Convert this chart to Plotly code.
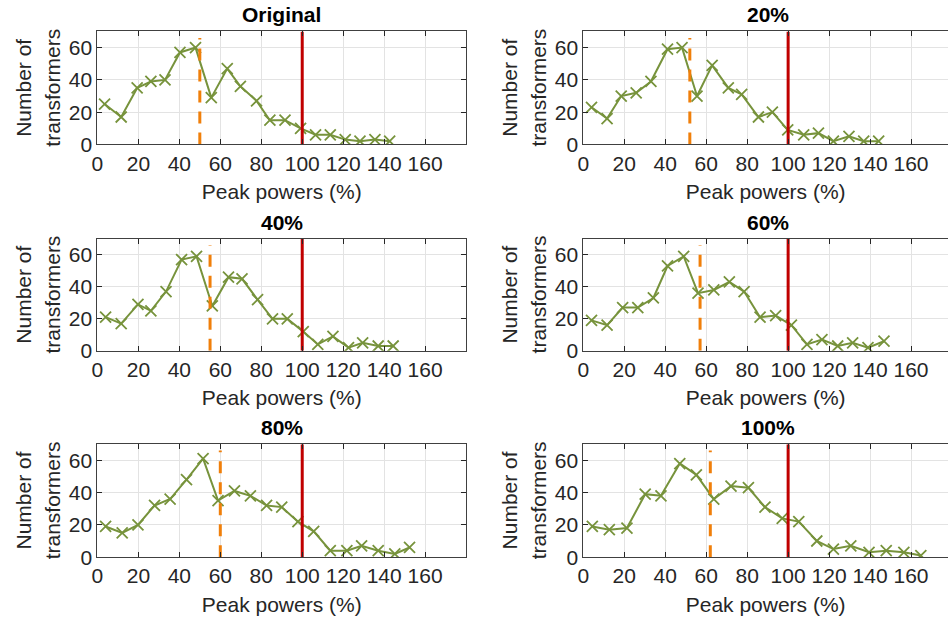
import plotly.graph_objects as go

# ---------------- data ----------------
panel_titles = ["Original", "20%", "40%", "60%", "80%", "100%"]

x_original = [3.5, 11.6, 19.4, 26.1, 33.0, 40.3, 47.9, 55.6, 63.4, 69.8, 77.7, 84.2, 91.6, 99.2, 106.5, 113.7, 121.0, 128.2, 135.5, 142.7]
y_original = [25, 17, 35, 39, 40, 57, 60, 29, 47, 36, 27, 15, 15, 10, 6, 6, 3, 2, 3, 2]

x_20 = [4.0, 11.6, 18.5, 25.8, 33.0, 41.1, 48.2, 55.5, 62.9, 70.8, 77.3, 85.5, 92.3, 99.8, 107.6, 114.8, 122.1, 129.7, 136.9, 144.2]
y_20 = [23, 16, 30, 32, 39, 59, 60, 30, 49, 35, 31, 17, 20, 9, 6, 7, 2, 5, 2, 2]

x_40 = [4.0, 11.6, 19.8, 26.1, 33.5, 41.1, 48.4, 56.1, 64.0, 70.6, 78.2, 85.5, 92.7, 100.5, 107.6, 115.0, 122.6, 129.5, 137.1, 144.4]
y_40 = [21, 17, 29, 25, 37, 57, 59, 28, 46, 45, 32, 20, 20, 12, 4, 9, 2, 5, 3, 3]

x_60 = [4.0, 11.6, 19.2, 26.6, 34.2, 41.1, 49.0, 56.0, 63.7, 71.3, 78.5, 86.3, 93.9, 101.6, 109.2, 116.5, 124.2, 131.5, 139.0, 146.8]
y_60 = [19, 16, 27, 27, 33, 53, 59, 36, 38, 43, 37, 21, 22, 16, 4, 7, 3, 5, 2, 6]

x_80 = [4.0, 12.1, 19.8, 27.9, 35.5, 43.5, 51.6, 58.9, 66.9, 74.7, 82.6, 90.0, 97.9, 105.6, 113.7, 121.8, 129.0, 137.1, 145.2, 152.4]
y_80 = [19, 15, 20, 32, 36, 48, 61, 35, 41, 38, 32, 31, 22, 16, 4, 4, 7, 4, 2, 6]

x_100 = [4.4, 12.7, 21.3, 30.2, 37.9, 47.1, 55.2, 63.7, 72.1, 80.6, 88.7, 97.1, 105.2, 114.0, 122.1, 130.6, 139.5, 147.9, 156.5, 164.8]
y_100 = [19, 17, 18, 39, 38, 58, 51, 36, 44, 43, 31, 24, 22, 10, 5, 7, 3, 4, 3, 1]

mean_peak = [50, 52, 55, 57, 60, 62]      # orange dashed line position
mean_line_top = 66                        # orange dashed line height
rated_limit = 100                         # red line position
y_max = 70

x_tick_vals = [0, 20, 40, 60, 80, 100, 120, 140, 160]
y_tick_vals = [0, 20, 40, 60]

xs = [x_original, x_20, x_40, x_60, x_80, x_100]
ys = [y_original, y_20, y_40, y_60, y_80, y_100]

# ---------------- layout geometry ----------------
W, H = 949, 633
col_x = [(92, 463), (581, 948)]
row_y = [(32, 147), (243, 357), (452, 567)]
px_per_unit = (463 - 92) / 180.0
x_ranges = [[0, 180], [0, (948 - 581) / px_per_unit]]

GREEN = "#77933C"
ORANGE = "#F07F0A"
RED = "#C00000"
TXT = "#262626"
FONT = "Liberation Sans, Arial, Helvetica, sans-serif"
FS = 21

fig = go.Figure()
annotations = []
layout_axes = {}

for i in range(6):
    r, c = divmod(i, 2)
    n = i + 1
    xa = "x" if n == 1 else f"x{n}"
    ya = "y" if n == 1 else f"y{n}"
    xkey = "xaxis" if n == 1 else f"xaxis{n}"
    ykey = "yaxis" if n == 1 else f"yaxis{n}"

    fig.add_trace(go.Scatter(
        x=xs[i], y=ys[i], mode="lines+markers", xaxis=xa, yaxis=ya,
        line=dict(color=GREEN, width=2),
        marker=dict(symbol="x-thin", size=11, line=dict(color=GREEN, width=1.8)),
        showlegend=False, hoverinfo="x+y"))
    fig.add_trace(go.Scatter(
        x=[mean_peak[i], mean_peak[i]], y=[0, mean_line_top], mode="lines",
        xaxis=xa, yaxis=ya, line=dict(color=ORANGE, width=3, dash="12px,9px"),
        showlegend=False, hoverinfo="skip"))
    fig.add_trace(go.Scatter(
        x=[rated_limit, rated_limit], y=[0, y_max], mode="lines",
        xaxis=xa, yaxis=ya, line=dict(color=RED, width=3),
        showlegend=False, hoverinfo="skip"))

    x0, x1 = col_x[c]
    yt, yb = row_y[r]
    layout_axes[xkey] = dict(
        domain=[x0 / W, x1 / W], range=x_ranges[c], anchor=ya,
        tickvals=x_tick_vals, ticks="inside", ticklen=5, tickcolor=TXT,
        showline=True, linecolor="#404040", linewidth=1, mirror="ticks",
        showgrid=True, gridcolor="#E3E3E3", gridwidth=1, zeroline=False,
        tickfont=dict(family=FONT, size=FS, color=TXT),
        title=dict(text="Peak powers (%)", font=dict(family=FONT, size=FS, color=TXT), standoff=10),
        fixedrange=True)
    layout_axes[ykey] = dict(
        domain=[1 - yb / H, 1 - yt / H], range=[0, y_max], anchor=xa,
        tickvals=y_tick_vals, ticks="inside", ticklen=5, tickcolor=TXT,
        showline=True, linecolor="#404040", linewidth=1,
        mirror="ticks" if c == 0 else False,
        showgrid=True, gridcolor="#E3E3E3", gridwidth=1, zeroline=False,
        tickfont=dict(family=FONT, size=FS, color=TXT),
        fixedrange=True)

    xc = (x0 + x1) / 2 if c == 0 else (581 + 581 + 180 * px_per_unit) / 2
    annotations.append(dict(
        text=f"<b>{panel_titles[i]}</b>", x=xc / W, y=1 - (yt - 17) / H,
        xref="paper", yref="paper", xanchor="center", yanchor="middle",
        showarrow=False, font=dict(family=FONT, size=FS, color="#000000")))
    ymid = 1 - ((yt + yb) / 2) / H
    annotations.append(dict(
        text="Number of", x=(x0 - 74) / W, y=ymid, xref="paper", yref="paper",
        xanchor="center", yanchor="middle", textangle=-90, showarrow=False,
        font=dict(family=FONT, size=FS, color=TXT)))
    annotations.append(dict(
        text="transformers", x=(x0 - 45) / W, y=ymid, xref="paper", yref="paper",
        xanchor="center", yanchor="middle", textangle=-90, showarrow=False,
        font=dict(family=FONT, size=FS, color=TXT)))

fig.update_layout(
    width=W, height=H, margin=dict(l=0, r=0, t=0, b=0),
    paper_bgcolor="white", plot_bgcolor="white",
    annotations=annotations, **layout_axes)

fig.write_html(
    "out.html",
    config={"displayModeBar": False},
    post_script="document.body.style.margin='0';document.documentElement.style.overflow='hidden';")
